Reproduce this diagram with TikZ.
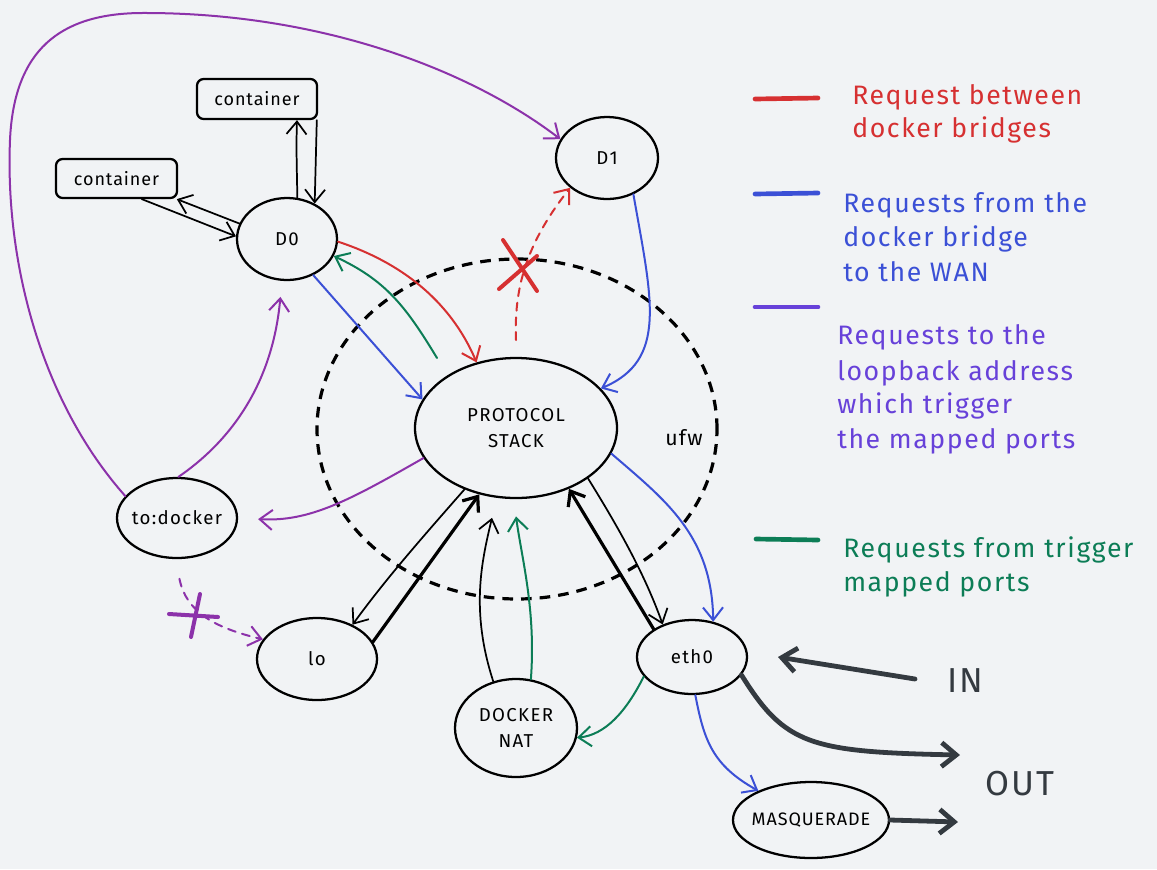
\documentclass[tikz,border=0pt]{standalone}
\usepackage{fontspec}
\setmainfont{Fira Sans}
\usetikzlibrary{arrows.meta,shapes.geometric}
\definecolor{bg}{RGB}{241,243,245}
\definecolor{cred}{RGB}{214,48,49}
\definecolor{cblue}{RGB}{59,80,214}
\definecolor{cviolet}{RGB}{103,65,217}
\definecolor{cgrape}{RGB}{140,50,170}
\definecolor{cgreen}{RGB}{12,125,86}
\definecolor{cdark}{RGB}{52,58,64}
\begin{document}
\begin{tikzpicture}[x=0.75pt,y=-0.75pt,
  ell/.style={draw=black,ellipse,line width=1.7pt,inner sep=0pt,align=center,
    font=\fontsize{14}{16}\selectfont\addfontfeature{LetterSpace=7}},
  cbox/.style={draw=black,rectangle,rounded corners=5pt,line width=1.7pt,inner sep=0pt,
    font=\fontsize{13.5}{16}\selectfont\addfontfeature{LetterSpace=5}},
  arr/.style={line cap=round,line join=round,-{Straight Barb[length=9.5pt,width=15pt]}},
  bigarr/.style={line cap=round,line join=round,draw=cdark,line width=3.6pt,-{Straight Barb[length=11pt,width=18pt]}},
  thin/.style={line width=1.3pt},
  thick/.style={line width=2.4pt},
  col/.style={line width=1.5pt},
  legline/.style={line width=3.5pt,line cap=round},
  legtext/.style={anchor=base west,inner sep=0pt,font=\fontsize{20}{24}\selectfont\addfontfeature{LetterSpace=6}},
  bigtext/.style={inner sep=0pt,text=cdark,font=\fontsize{26}{30}\selectfont\addfontfeature{LetterSpace=6}},
]
\fill[bg] (0,0) rectangle (1157,869);
\useasboundingbox (0,0) rectangle (1157,869);

% ufw zone
\node[draw=black,ellipse,line width=2.4pt,dash pattern=on 8pt off 6pt,minimum width=300pt,minimum height=255pt] (ufw) at (517,429) {};
\node[inner sep=0pt,font=\fontsize{16}{18}\selectfont\addfontfeature{LetterSpace=6}] (ufwl) at (684,438) {ufw};

% nodes
\node[cbox,minimum width=90pt,minimum height=30pt] (c1) at (257,99) {container};
\node[cbox,minimum width=90.75pt,minimum height=29.25pt] (c2) at (116.5,178.5) {container};
\node[ell,minimum width=75pt,minimum height=61.5pt] (D0) at (287,239) {D0};
\node[ell,minimum width=76.5pt,minimum height=61.5pt] (D1) at (607,158) {D1};
\node[ell,minimum width=151.5pt,minimum height=105pt] (PS) at (516,428) {PROTOCOL\\[3pt]STACK};
\node[ell,minimum width=90pt,minimum height=60pt,inner xsep=-8pt] (td) at (177,518) {to:docker};
\node[ell,minimum width=90pt,minimum height=61.5pt] (lo) at (317,659) {lo};
\node[ell,minimum width=91.5pt,minimum height=73.5pt] (nat) at (516,728) {DOCKER\\[3pt]NAT};
\node[ell,minimum width=82.5pt,minimum height=55.5pt] (eth) at (692,657) {eth0};
\node[ell,minimum width=117pt,minimum height=57pt,inner xsep=-16pt,font=\fontsize{13.5}{16}\selectfont\addfontfeature{LetterSpace=5}] (mq) at (811,820) {MASQUERADE};

\node[bigtext] (IN) at (965,681) {IN};
\node[bigtext] (OUT) at (1020,784) {OUT};

% container links
\draw[arr,thin] (D0.76) .. controls (297,170) and (296,150) .. ([xshift=30pt]c1.south);
\draw[arr,thin] ([xshift=-1pt]c1.south east) -- (D0.52);
\draw[arr,thin] ([xshift=19pt]c2.south) -- (D0.177);
\draw[arr,thin] (D0.162) -- ([xshift=-1pt]c2.south east);

% red
\draw[arr,col,cred] (D0.-3) .. controls (400,262) and (450,300) .. (PS.121);
\coordinate (rs) at (516,340);
\draw[arr,col,cred,dash pattern=on 6pt off 5pt] (rs) .. controls (514,290) and (525,245) .. (D1.219);
\draw[cred,line width=3pt,line cap=round] (503,240) -- (537,291) (499,289) -- (537,256);

% green
\coordinate (gs) at (437,358);
\draw[arr,col,cgreen] (gs) .. controls (405,305) and (385,280) .. (D0.-20);
\draw[arr,col,cgreen] (nat.73) .. controls (536,610) and (522,560) .. ([yshift=-13pt]PS.-90);
\draw[arr,col,cgreen] (eth.202) .. controls (626,712) and (605,735) .. (nat.-9);

% blue
\draw[arr,col,cblue] (D0.-54) -- (PS.163);
\draw[arr,col,cblue] (D1.-54) .. controls (652,300) and (668,360) .. (PS.25);
\draw[arr,col,cblue] (PS.-15) .. controls (665,500) and (712,535) .. (eth.59);
\draw[arr,col,cblue] (eth.-85) .. controls (704,740) and (712,765) .. (mq.151);

% purple
\draw[arr,col,cgrape] (td.157) .. controls (40,400) and (5,260) .. (10,140) .. controls (14,50) and (60,14) .. (140,13) .. controls (320,12) and (470,70) .. (D1.158);
\draw[arr,col,cgrape,shorten >=12pt] (td.88) .. controls (225,445) and (272,390) .. (D0.-97);
\draw[arr,col,cgrape,shorten >=15pt] (PS.198) .. controls (350,500) and (310,522) .. (td.0);
\draw[arr,col,cgrape,shorten <=15pt,dash pattern=on 6pt off 5pt] (td.-92) .. controls (186,612) and (215,628) .. (lo.160);
\draw[cgrape,line width=3pt,line cap=round] (169,614) -- (218,617) (200,594) -- (191,637);

% black PS links
\draw[arr,thin] (PS.-130) .. controls (420,540) and (385,580) .. (lo.44);
\draw[arr,thick] (lo.17) -- (PS.-119);
\draw[arr,thin] (nat.116) .. controls (470,610) and (482,560) .. ([xshift=-18pt,yshift=-14pt]PS.-90);
\draw[arr,thick] (eth.144) -- (PS.-49);
\draw[arr,thin] (PS.-35) .. controls (620,530) and (645,575) .. (eth.132);

% IN / OUT
\coordinate (inS) at (915,679);
\coordinate (inT) at (778,657);
\draw[bigarr] (inS) -- (inT);
\coordinate (outT) at (960,755);
\draw[bigarr] (eth.-20) .. controls (785,745) and (810,752) .. (outT);
\coordinate (mqT) at (958,822);
\draw[bigarr] (mq.east) -- (mqT);

% legend
\coordinate (l1a) at (755,99); \coordinate (l1b) at (818,98);
\draw[legline,cred] (l1a) -- (l1b);
\node[legtext,text=cred] (t1a) at (852,104) {Request between};
\node[legtext,text=cred] (t1b) at (852,137) {docker bridges};

\coordinate (l2a) at (755,194); \coordinate (l2b) at (818,193);
\draw[legline,cblue] (l2a) -- (l2b);
\node[legtext,text=cblue] (t2a) at (843,212) {Requests from the};
\node[legtext,text=cblue] (t2b) at (843,246) {docker bridge};
\node[legtext,text=cblue] (t2c) at (843,281) {to the WAN};

\coordinate (l3a) at (755,307); \coordinate (l3b) at (818,307);
\draw[legline,cviolet] (l3a) -- (l3b);
\node[legtext,text=cviolet] (t3a) at (837,344) {Requests to the};
\node[legtext,text=cviolet] (t3b) at (837,380) {loopback address};
\node[legtext,text=cviolet] (t3c) at (837,413) {which trigger};
\node[legtext,text=cviolet] (t3d) at (837,448) {the mapped ports};

\coordinate (l4a) at (756,539); \coordinate (l4b) at (818,540);
\draw[legline,cgreen] (l4a) -- (l4b);
\node[legtext,text=cgreen] (t4a) at (843,557) {Requests from trigger};
\node[legtext,text=cgreen] (t4b) at (843,591) {mapped ports};
\end{tikzpicture}
\end{document}
